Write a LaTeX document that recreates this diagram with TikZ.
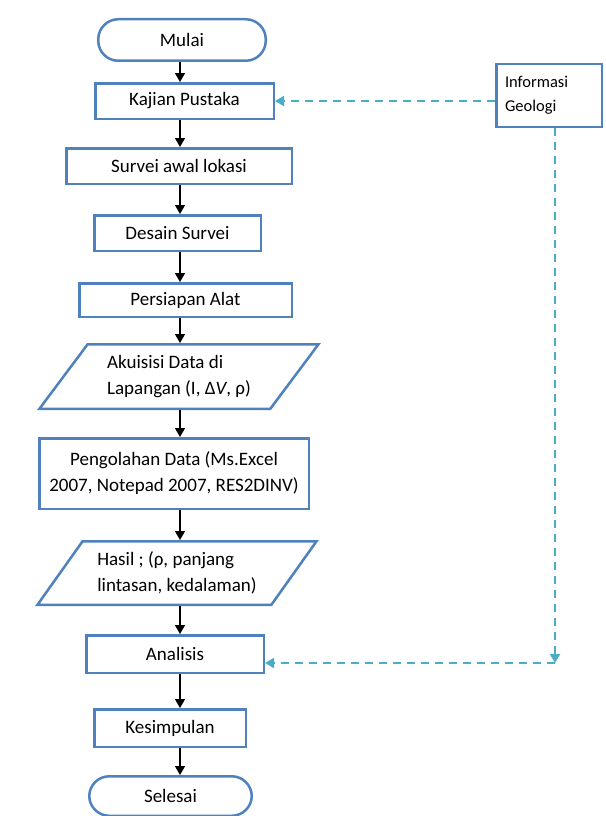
\documentclass[tikz,border=0pt]{standalone}
\usepackage{fontspec}
\setmainfont{Carlito}
\usetikzlibrary{positioning,shapes.geometric,arrows.meta}
\definecolor{boxblue}{HTML}{4F81BD}
\definecolor{linkcyan}{HTML}{4BACC6}

\begin{document}
\begin{tikzpicture}[x=1pt,y=1pt,font=\fontsize{19}{26}\selectfont]
	\tikzstyle{proses}=[rectangle,draw=boxblue,line width=2.5pt,align=center,inner sep=2pt]
	\tikzstyle{terminal}=[proses,rounded corners=20pt]
	\tikzstyle{io}=[trapezium,trapezium left angle=50,trapezium right angle=130,trapezium stretches=true,draw=boxblue,line width=2.5pt,align=left,inner sep=2pt]
	\tikzstyle{alur}=[-{Triangle[length=9pt,width=10pt]},line width=1.5pt]
	\tikzstyle{masukan}=[-{Triangle[length=9pt,width=10pt]},linkcyan,dash pattern=on 8pt off 6pt,line width=2pt]
	\useasboundingbox (0,0) rectangle (605,-816);
		\coordinate (spine) at (180,0);
		\node[terminal, minimum width=167.5pt, minimum height=41.5pt] (mulai) at (182,-40) {Mulai};
		\node[proses, below=20pt of mulai, xshift=2.5pt, minimum width=178.5pt, minimum height=35.5pt] (kajian) {Kajian Pustaka};
		\node[proses, below=27pt of kajian, xshift=-5.5pt, minimum width=225.5pt, minimum height=35.5pt] (survei) {Survei awal lokasi};
		\node[proses, below=29pt of survei, xshift=-1.5pt, minimum width=166.5pt, minimum height=35.5pt] (desain) {Desain Survei};
		\node[proses, below=30pt of desain, xshift=8pt, minimum width=212.5pt, minimum height=33.5pt] (persiapan) {Persiapan Alat};
		\node[io, below=25pt of persiapan, xshift=-6.5pt, minimum width=279.5pt, minimum height=64.5pt] (akuisisi) {Akuisisi Data di\\Lapangan (I, Δ\textit{V}, ρ)};
		\node[proses, below=27pt of akuisisi, xshift=-5pt, minimum width=269.5pt, minimum height=70.5pt] (pengolahan) {Pengolahan Data (Ms.Excel\\2007, Notepad 2007, RES2DINV)};
		\node[io, below=30pt of pengolahan, xshift=3pt, minimum width=279.5pt, minimum height=63.5pt] (hasil) {Hasil ; (ρ, panjang\\lintasan, kedalaman)};
		\node[proses, below=28pt of hasil, xshift=-2pt, minimum width=177.5pt, minimum height=37.5pt] (analisis) {Analisis};
		\node[proses, below=34pt of analisis, xshift=-5pt, minimum width=151.5pt, minimum height=37.5pt] (kesimpulan) {Kesimpulan};
		\node[terminal, below=27pt of kesimpulan, xshift=0.5pt, minimum width=162.5pt, minimum height=39.5pt] (selesai) {Selesai};
		\node[proses, align=left, text width=88pt, font=\fontsize{16.5}{24}\selectfont, minimum width=105.5pt, minimum height=62.5pt] (info) at (549,-95.5) {Informasi\\Geologi};
			\draw[alur] (mulai.south -| spine) -- (kajian.north -| spine);
			\draw[alur] (kajian.south -| spine) -- (survei.north -| spine);
			\draw[alur] (survei.south -| spine) -- (desain.north -| spine);
			\draw[alur] (desain.south -| spine) -- (persiapan.north -| spine);
			\draw[alur] (persiapan.south -| spine) -- (akuisisi.north -| spine);
			\draw[alur] (akuisisi.south -| spine) -- (pengolahan.north -| spine);
			\draw[alur] (pengolahan.south -| spine) -- (hasil.north -| spine);
			\draw[alur] (hasil.south -| spine) -- (analisis.north -| spine);
			\draw[alur] (analisis.south -| spine) -- (kesimpulan.north -| spine);
			\draw[alur] (kesimpulan.south -| spine) -- (selesai.north -| spine);
		\coordinate (belok) at (555,-663);
			\draw[masukan] (info.west |- kajian.east) -- (kajian.east);
			\draw[masukan] (info.south -| belok) -- (belok);
			\draw[masukan] (belok) -- (analisis.east |- belok);
\end{tikzpicture}
\end{document}
